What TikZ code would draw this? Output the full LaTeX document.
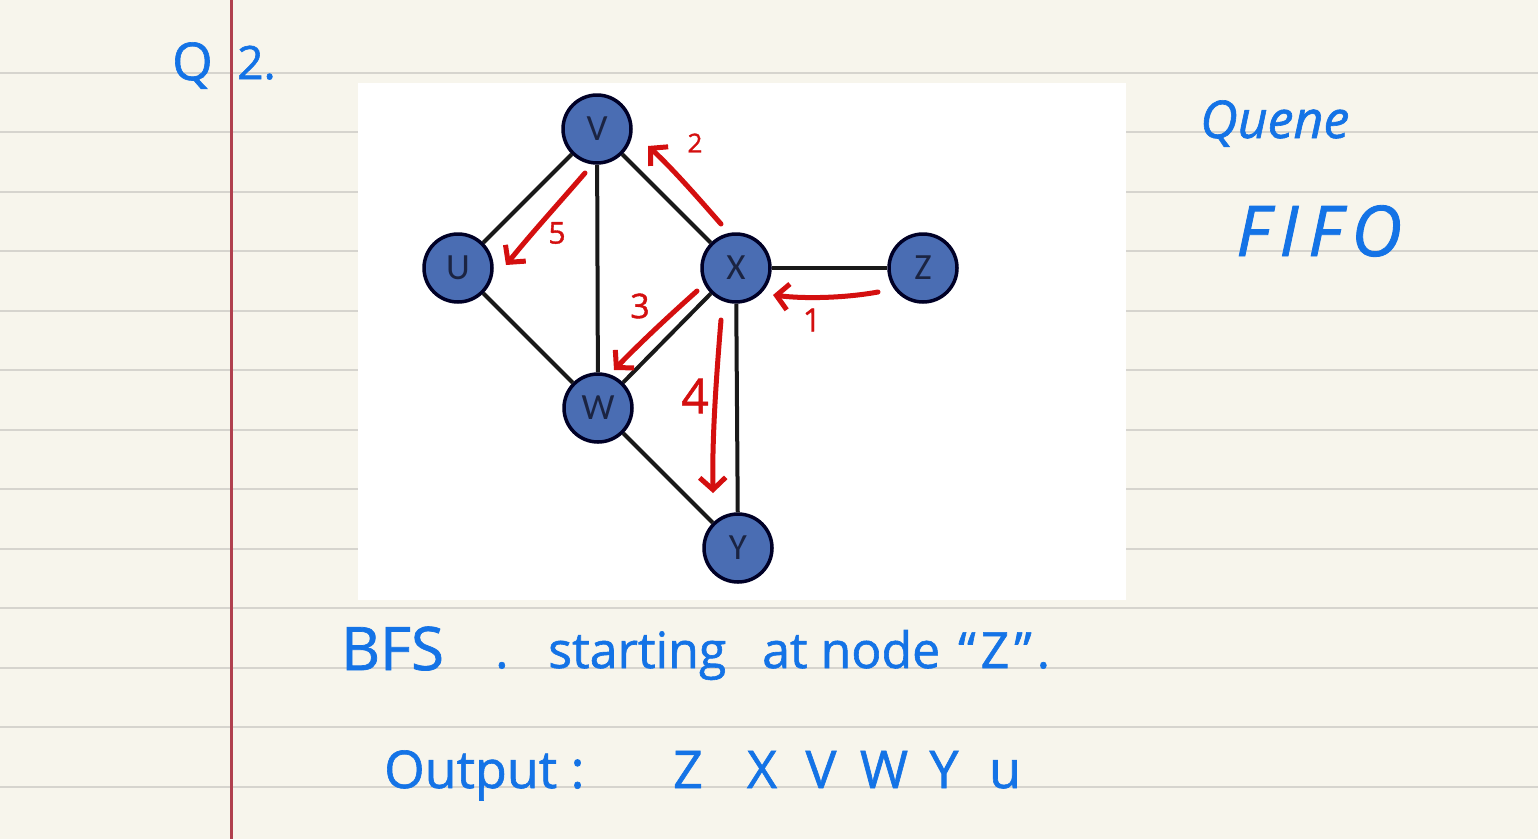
\documentclass[tikz,border=0pt]{standalone}
\usepackage{fontspec}
\setmainfont{Open Sans}[FakeBold=1.2, ItalicFeatures={FakeBold=1.2}]
\newfontfamily\nodefont{Carlito}
\usetikzlibrary{arrows.meta}
\definecolor{paper}{HTML}{F7F5EC}
\definecolor{rulecol}{HTML}{D6D4CE}
\definecolor{margincol}{HTML}{B0404E}
\definecolor{ink}{HTML}{1473E6}
\definecolor{redink}{HTML}{D40F0F}
\definecolor{nodefill}{HTML}{4A6DB3}
\definecolor{nodetext}{HTML}{1B2442}
\newcommand{\fs}[1]{\fontsize{#1}{#1}\selectfont}
\begin{document}
\begin{tikzpicture}[x=1pt,y=-1pt,
  gnode/.style={circle,draw=black!85!blue,line width=3.5pt,fill=nodefill,minimum size=68pt,inner sep=0pt,font=\nodefont\fs{37},text=nodetext},
  edge/.style={line width=4pt,black!90},
  trav/.style={redink,line width=5pt,line cap=round,-{Straight Barb[length=12pt,width=26pt,line width=5pt]}},
  steplabel/.style={text=redink,inner sep=0pt},
  hand/.style={text=ink,inner sep=0pt,anchor=base west},
  handc/.style={text=ink,inner sep=0pt,anchor=base}
]
\useasboundingbox (0,0) rectangle (1538,839);
\fill[paper] (0,0) rectangle (1538,839);
\foreach \yy in {72.7,132.2,191.7,251.2,310.7,370.2,429.7,489.2,548.7,608.2,667.7,727.2,786.7}
  \draw[rulecol,line width=2.4pt] (0,\yy) -- (1538,\yy);
\draw[margincol,line width=2.6pt] (231.7,0) -- (231.7,839);
\fill[white] (358,83) rectangle (1126,600);

% graph nodes
\node[gnode] (V) at (597,129) {V};
\node[gnode] (U) at (458,268) {U};
\node[gnode] (X) at (736,268) {X};
\node[gnode] (Z) at (923,268) {Z};
\node[gnode] (W) at (598,408) {W};
\node[gnode] (Y) at (738,548) {Y};

% edges
\draw[edge] (V) -- (U);
\draw[edge] (V) -- (W);
\draw[edge] (V) -- (X);
\draw[edge] (U) -- (W);
\draw[edge] (X) -- (W);
\draw[edge] (X) -- (Z);
\draw[edge] (X) -- (Y);
\draw[edge] (W) -- (Y);

% traversal arrows
\coordinate (a1s) at (878,292);
\coordinate (a1e) at (773,295);
\coordinate (a2s) at (721,224);
\coordinate (a2e) at (648,146);
\coordinate (a3s) at (697,291);
\coordinate (a3e) at (614,370);
\coordinate (a4s) at (721,320);
\coordinate (a4e) at (713,493);
\coordinate (a5s) at (585,173);
\coordinate (a5e) at (506,265);
\draw[trav] (a1s) .. controls (845,298) and (805,299) .. (a1e);
\draw[trav] (a2s) .. controls (700,200) and (672,168) .. (a2e);
\draw[trav] (a3s) .. controls (670,315) and (640,343) .. (a3e);
\draw[trav] (a4s) .. controls (716,380) and (712,440) .. (a4e);
\draw[trav] (a5s) .. controls (560,202) and (530,235) .. (a5e);

\node[steplabel,font=\fs{32}] (l1) at (812,320) {1};
\node[steplabel,font=\fs{26}] (l2) at (695,143) {2};
\node[steplabel,font=\fs{34}] (l3) at (640,306) {3};
\node[steplabel,font=\fs{48}] (l4) at (695,396) {4};
\node[steplabel,font=\fs{30}] (l5) at (557,233) {5};

% handwriting
\node[hand,font=\fs{52}] (q) at (172,80) {Q};
\node[hand,font=\fs{46}] (q2) at (237,79) {2.};
\node[hand,font=\itshape\fs{52}] (queue) at (1200,138) {Quene};
\node[hand,font=\itshape\fs{70}\addfontfeatures{LetterSpace=14}] (fifo) at (1236,256) {FIFO};
\node[hand,font=\fs{60}] (bfs) at (341,670) {BFS};
\node[hand,font=\fs{50}] (dot) at (495,668) {.};
\node[hand,font=\fs{50}] (starting) at (548,668) {starting};
\node[hand,font=\fs{50}] (atnode) at (762,668) {at node};
\node[hand,font=\fs{50}\addfontfeatures{LetterSpace=10}] (zq) at (958,668) {“Z”.};
\node[hand,font=\fs{52}] (output) at (384,788) {Output :};
\node[handc,font=\fs{52}] (oz) at (688,788) {Z};
\node[handc,font=\fs{52}] (ox) at (762,788) {X};
\node[handc,font=\fs{52}] (ov) at (821,788) {V};
\node[handc,font=\fs{52}] (ow) at (884,788) {W};
\node[handc,font=\fs{52}] (oy) at (944,788) {Y};
\node[handc,font=\fs{52}] (ou) at (1005,788) {u};
\end{tikzpicture}
\end{document}
